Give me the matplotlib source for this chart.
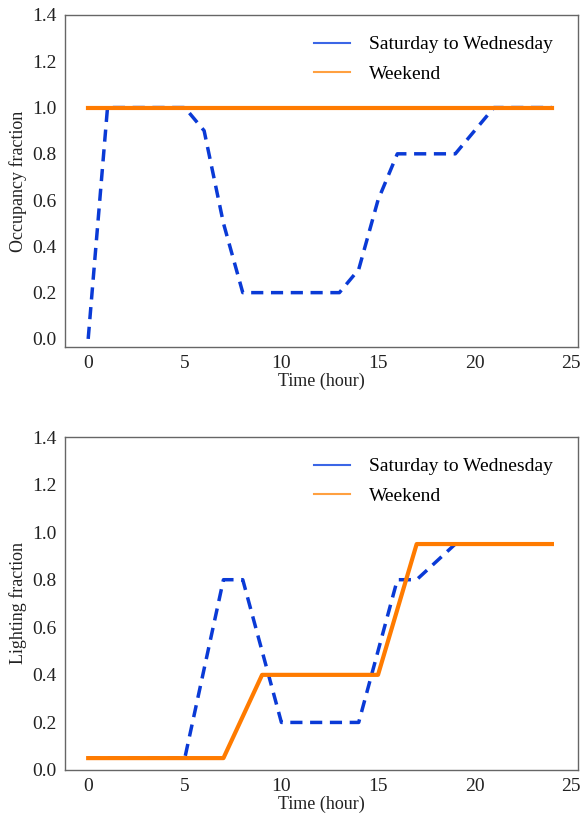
import matplotlib
matplotlib.use("Agg")
import matplotlib.pyplot as plt
from matplotlib.lines import Line2D

hours = list(range(25))
occ_weekday = [0, 1, 1, 1, 1, 1, 0.9, 0.5, 0.2, 0.2, 0.2, 0.2, 0.2, 0.2, 0.3, 0.6, 0.8, 0.8, 0.8, 0.8, 0.9, 1, 1, 1, 1]
occ_weekend = [1] * 25
light_weekday = [0.05, 0.05, 0.05, 0.05, 0.05, 0.05, 0.425, 0.8, 0.8, 0.5, 0.2, 0.2, 0.2, 0.2, 0.2, 0.5, 0.8, 0.8, 0.875, 0.95, 0.95, 0.95, 0.95, 0.95, 0.95]
light_weekend = [0.05, 0.05, 0.05, 0.05, 0.05, 0.05, 0.05, 0.05, 0.225, 0.4, 0.4, 0.4, 0.4, 0.4, 0.4, 0.4, 0.675, 0.95, 0.95, 0.95, 0.95, 0.95, 0.95, 0.95, 0.95]
labels = ["Saturday to Wednesday", "Weekend"]
xticks = [0, 5, 10, 15, 20, 25]
yticks = [0.0, 0.2, 0.4, 0.6, 0.8, 1.0, 1.2, 1.4]

plt.rcParams['font.family'] = ['Liberation Serif', 'DejaVu Serif']

BLUE = '#0a3ad6'
ORANGE = '#ff7b00'

fig = plt.figure(figsize=(5.84, 8.17), dpi=100)
W, H = 584, 817
specs = [
    (65, 15, 578, 347, occ_weekday, occ_weekend, "Occupancy fraction", -0.035),
    (65, 437, 578, 770, light_weekday, light_weekend, "Lighting fraction", 0.0),
]
for (l, t, r, b, wd, we, ylabel, ymin) in specs:
    ax = fig.add_axes([l / W, 1 - b / H, (r - l) / W, (b - t) / H])
    ax.plot(hours, wd, color=BLUE, lw=2.5, ls=(0, (3.5, 2.2)), zorder=2)
    ax.plot(hours, we, color=ORANGE, lw=3.0, zorder=3)
    ax.set_xlim(-1.2, 25.35)
    ax.set_ylim(ymin, 1.4)
    ax.set_xticks(xticks)
    ax.set_yticks(yticks)
    ax.set_yticklabels([f"{v:.1f}" for v in yticks])
    ax.tick_params(length=0, labelsize=14, colors='#222222', pad=6)
    for s in ax.spines.values():
        s.set_color('#666666')
        s.set_linewidth(1.0)
    ax.set_xlabel("Time (hour)", fontsize=13, labelpad=0, color='#222222')
    ax.set_ylabel(ylabel, fontsize=13, labelpad=4, color='#222222')
    handles = [Line2D([], [], color='#3b66e6', lw=1.5),
               Line2D([], [], color='#ffa040', lw=1.5)]
    ax.legend(handles, labels, loc='upper right', frameon=False, fontsize=14,
              handlelength=1.9, handletextpad=0.95, labelspacing=0.6,
              bbox_to_anchor=(0.985, 0.99))

fig.savefig("out.png", dpi=100)
